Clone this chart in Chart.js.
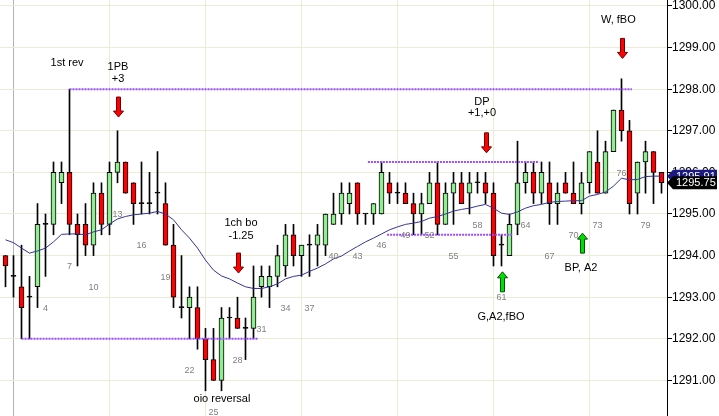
<!DOCTYPE html>
<html>
<head>
<meta charset="utf-8">
<script src="https://cdn.jsdelivr.net/npm/chart.js@4.4.1/dist/chart.umd.min.js"></script>
<style>
  html, body { margin: 0; padding: 0; background: #fff; }
  #wrap { width: 719px; height: 416px; }
</style>
</head>
<body>
<div id="wrap"><canvas id="chart" width="719" height="416"></canvas></div>
<script>
// 5-min bars, numbered from the session open; first visible bar is -1
const firstBar = -1;

const opens = [
  1294.00, 1293.50, 1293.25, 1293.00, 1293.25, 1294.75, 1294.75, 1295.75, 1296.00, 1294.75,
  1294.75, 1294.25, 1295.50, 1294.75, 1296.00, 1296.25, 1295.75, 1295.25, 1295.25, 1295.50,
  1295.25, 1294.25, 1292.75, 1292.75, 1292.75, 1292.00, 1291.50, 1291.00, 1292.50, 1292.50,
  1292.25, 1292.25, 1293.25, 1293.25, 1293.50, 1293.75, 1294.50, 1294.00, 1294.25, 1294.25,
  1294.25, 1294.75, 1295.00, 1295.25, 1295.75, 1295.00, 1295.00, 1295.00, 1295.75, 1295.50,
  1295.50, 1295.25, 1295.00, 1295.25, 1295.75, 1294.75, 1295.50, 1295.75, 1295.50, 1295.75,
  1295.75, 1295.50, 1294.25, 1294.00, 1294.75, 1295.75, 1296.00, 1295.50, 1295.75, 1295.25,
  1295.75, 1295.50, 1295.25, 1295.75, 1296.25, 1295.50, 1296.50, 1297.50, 1297.00, 1295.50,
  1296.25, 1296.50, 1296.00
];
const highs = [
  1294.00, 1294.00, 1294.25, 1293.50, 1295.25, 1295.00, 1296.25, 1296.25, 1298.00, 1295.00,
  1295.25, 1295.75, 1295.75, 1296.25, 1297.00, 1296.25, 1295.75, 1296.25, 1296.00, 1296.50,
  1295.75, 1294.75, 1294.00, 1293.25, 1293.25, 1292.25, 1292.25, 1292.75, 1292.75, 1293.00,
  1292.50, 1293.75, 1293.75, 1293.75, 1294.25, 1294.75, 1294.75, 1294.25, 1294.50, 1294.75,
  1295.00, 1295.50, 1295.75, 1295.75, 1295.75, 1295.00, 1295.25, 1296.25, 1296.00, 1295.75,
  1295.75, 1295.50, 1295.50, 1296.00, 1296.25, 1295.75, 1296.00, 1296.00, 1296.00, 1296.00,
  1296.00, 1295.75, 1294.50, 1295.00, 1296.75, 1296.25, 1296.25, 1296.25, 1296.25, 1295.75,
  1296.00, 1296.25, 1296.00, 1296.50, 1297.00, 1296.75, 1297.50, 1298.25, 1297.25, 1296.25,
  1296.75, 1296.50, 1296.00
];
const lows = [
  1293.25, 1293.00, 1292.00, 1292.00, 1292.75, 1293.50, 1294.50, 1295.25, 1294.50, 1293.75,
  1294.00, 1294.00, 1294.50, 1294.50, 1295.75, 1295.50, 1294.75, 1295.00, 1295.00, 1295.00,
  1294.25, 1292.75, 1292.50, 1292.00, 1291.75, 1290.75, 1291.00, 1290.75, 1292.00, 1292.25,
  1291.50, 1292.00, 1293.00, 1292.75, 1293.25, 1293.50, 1293.75, 1293.50, 1293.50, 1293.75,
  1294.00, 1294.75, 1294.75, 1295.00, 1294.75, 1294.75, 1294.75, 1295.00, 1295.25, 1295.25,
  1295.25, 1294.50, 1294.50, 1295.25, 1294.50, 1294.75, 1294.75, 1295.25, 1295.00, 1295.50,
  1295.25, 1293.75, 1293.75, 1294.00, 1294.50, 1295.50, 1295.25, 1295.25, 1294.75, 1294.75,
  1295.50, 1295.25, 1295.00, 1295.50, 1295.50, 1295.50, 1296.50, 1296.75, 1295.00, 1295.00,
  1295.50, 1295.25, 1295.50
];
const closes = [
  1293.75, 1293.50, 1292.75, 1293.00, 1294.75, 1294.75, 1296.00, 1296.00, 1294.75, 1294.50,
  1294.25, 1295.50, 1294.75, 1296.00, 1296.25, 1295.50, 1295.25, 1295.25, 1295.25, 1295.50,
  1294.25, 1293.00, 1292.75, 1293.00, 1292.00, 1291.50, 1291.00, 1292.50, 1292.50, 1292.25,
  1292.25, 1293.00, 1293.50, 1293.50, 1294.00, 1294.50, 1294.00, 1294.25, 1294.25, 1294.50,
  1295.00, 1295.00, 1295.50, 1295.50, 1295.00, 1295.00, 1295.25, 1296.00, 1295.50, 1295.50,
  1295.25, 1295.00, 1295.25, 1295.75, 1294.75, 1295.50, 1295.75, 1295.25, 1295.75, 1295.75,
  1295.50, 1294.00, 1294.25, 1294.75, 1295.75, 1296.00, 1295.50, 1296.00, 1295.25, 1295.50,
  1295.50, 1295.25, 1295.75, 1296.50, 1295.50, 1296.50, 1297.50, 1297.00, 1295.25, 1296.25,
  1296.50, 1296.00, 1295.75
];
// moving average, one value per bar
const maValues = [
  1294.38, 1294.31, 1294.18, 1294.06, 1294.11, 1294.18, 1294.33, 1294.51, 1294.52, 1294.52,
  1294.50, 1294.57, 1294.62, 1294.76, 1294.88, 1294.94, 1294.98, 1295.00, 1295.02, 1295.06,
  1295.00, 1294.86, 1294.62, 1294.42, 1294.18, 1293.89, 1293.65, 1293.51, 1293.44, 1293.34,
  1293.25, 1293.21, 1293.21, 1293.25, 1293.32, 1293.44, 1293.50, 1293.53, 1293.62, 1293.70,
  1293.80, 1293.92, 1293.99, 1294.11, 1294.22, 1294.33, 1294.42, 1294.52, 1294.62, 1294.69,
  1294.75, 1294.78, 1294.82, 1294.90, 1294.94, 1295.00, 1295.07, 1295.11, 1295.14, 1295.19,
  1295.23, 1295.14, 1295.02, 1294.99, 1295.05, 1295.14, 1295.20, 1295.23, 1295.28, 1295.30,
  1295.31, 1295.32, 1295.32, 1295.43, 1295.47, 1295.53, 1295.67, 1295.86, 1295.82, 1295.83,
  1295.90, 1295.91, 1295.91
];

const yTicks = [1291, 1292, 1293, 1294, 1295, 1296, 1297, 1298, 1299, 1300];
const yMin = 1290.144;
const yMax = 1300.144;
const xMin = -1.6875;
const xMax = 81.6875;
const gridBars = [0, 12, 24, 36, 48, 60, 72];
const labelBars = [4, 7, 10, 13, 16, 19, 22, 25, 28, 31, 34, 37, 40, 43, 46, 49, 52, 55, 58, 61, 64, 67, 70, 73, 76, 79];

// dotted support / resistance levels
const levelPrices = [1298.00, 1292.00, 1296.25, 1294.50];
const levelStarts = [7, 1, 44.3, 46.7];
const levelEnds = [77.3, 30.6, 65.7, 62.4];

// signal arrows (tip price)
const arrowBars = [13, 28, 59, 76, 61, 71];
const arrowTips = [1297.33, 1293.58, 1296.47, 1298.74, 1293.61, 1294.54];
const arrowDirs = ['down', 'down', 'down', 'down', 'up', 'up'];

const noteTexts = ['1st rev', '1PB', '+3', '1ch bo', '-1.25', 'oio reversal', 'DP', '+1,+0', 'G,A2,fBO', 'BP, A2', 'W, fBO'];
const noteBars = [6.69, 13.06, 13.06, 28.44, 28.44, 26.06, 58.56, 58.56, 60.94, 70.94, 75.6];
const notePrices = [1298.63, 1298.53, 1298.25, 1294.78, 1294.48, 1290.55, 1297.69, 1297.42, 1292.52, 1293.70, 1299.66];

const COLORS = {
  up: '#90ee90',
  down: '#ff0000',
  edge: '#000000',
  ma: '#333399',
  level: '#9b4dff',
  grid: '#ecebd8',
  session: '#b4b4b4',
  barNo: '#808080',
};

const FONT = '"Liberation Sans", Arial, sans-serif';
Chart.defaults.font.family = FONT;

const barIdx = opens.map((o, i) => firstBar + i);
const bodyColors = opens.map((o, i) => closes[i] > o ? COLORS.up : (closes[i] < o ? COLORS.down : COLORS.edge));

function drawArrow(ctx, x, tip, dir) {
  const len = 20, head = 6;
  const sgn = dir === 'down' ? -1 : 1;  // shaft extends away from the tip
  const hy = tip + sgn * head;
  const ty = tip + sgn * len;
  x = Math.round(x) + 0.5;
  ctx.beginPath();
  ctx.moveTo(x, tip);
  ctx.lineTo(x + 5, hy);
  ctx.lineTo(x + 2, hy);
  ctx.lineTo(x + 2, ty);
  ctx.lineTo(x - 2, ty);
  ctx.lineTo(x - 2, hy);
  ctx.lineTo(x - 5, hy);
  ctx.closePath();
  ctx.fillStyle = dir === 'down' ? '#ff0000' : '#00dd00';
  ctx.fill();
  ctx.lineWidth = 1;
  ctx.strokeStyle = dir === 'down' ? '#700000' : '#005000';
  ctx.stroke();
}

function priceTag(ctx, left, width, yc, fill, text) {
  const h = 13;
  ctx.beginPath();
  ctx.moveTo(left, yc);
  ctx.lineTo(left + 6, yc - h / 2);
  ctx.lineTo(left + width, yc - h / 2);
  ctx.lineTo(left + width, yc + h / 2);
  ctx.lineTo(left + 6, yc + h / 2);
  ctx.closePath();
  ctx.fillStyle = fill;
  ctx.fill();
  ctx.fillStyle = '#ffffff';
  ctx.font = '11px ' + FONT;
  ctx.textAlign = 'left';
  ctx.textBaseline = 'middle';
  ctx.fillText(text, left + 9, yc + 0.5);
}

const overlay = {
  id: 'overlay',
  afterDatasetsDraw(chart) {
    const { ctx, scales: { x, y } } = chart;
    ctx.save();
    ctx.font = '9px ' + FONT;
    ctx.fillStyle = COLORS.barNo;
    ctx.textAlign = 'center';
    ctx.textBaseline = 'middle';
    labelBars.forEach((n) => {
      const i = n - firstBar;
      ctx.fillText(String(n), x.getPixelForValue(n), y.getPixelForValue(lows[i]) + 32);
    });

    arrowBars.forEach((n, k) => {
      drawArrow(ctx, x.getPixelForValue(n), y.getPixelForValue(arrowTips[k]), arrowDirs[k]);
    });

    ctx.font = '11px ' + FONT;
    ctx.fillStyle = '#000';
    ctx.textAlign = 'center';
    noteTexts.forEach((t, k) => {
      ctx.fillText(t, x.getPixelForValue(noteBars[k]), y.getPixelForValue(notePrices[k]));
    });
    ctx.restore();
  },
  afterDraw(chart) {
    const { ctx, chartArea, scales: { y } } = chart;
    const last = closes.length - 1;
    ctx.save();
    priceTag(ctx, chartArea.right, 50, y.getPixelForValue(maValues[last]), '#1a1a80', maValues[last].toFixed(2));
    priceTag(ctx, chartArea.right, 50, y.getPixelForValue(closes[last]), '#000000', closes[last].toFixed(2));
    ctx.restore();
  },
};

const datasets = [
  {
    type: 'bar',
    label: 'Wicks',
    data: barIdx.map((n, i) => ({ x: n, y: [lows[i], highs[i]] })),
    backgroundColor: COLORS.edge,
    borderWidth: 0,
    barThickness: 1,
    grouped: false,
    order: 4,
  },
  {
    type: 'bar',
    label: 'Bodies',
    data: barIdx.map((n, i) => ({ x: n, y: [opens[i], closes[i]] })),
    backgroundColor: bodyColors,
    borderColor: COLORS.edge,
    borderWidth: 1,
    borderSkipped: false,
    barThickness: 5,
    minBarLength: 1,
    grouped: false,
    order: 3,
  },
  {
    type: 'line',
    label: 'MA',
    data: barIdx.map((n, i) => ({ x: n, y: maValues[i] })),
    borderColor: COLORS.ma,
    borderWidth: 1,
    pointRadius: 0,
    tension: 0,
    order: 2,
  },
];

levelPrices.forEach((p, k) => {
  datasets.push({
    type: 'line',
    label: 'Level ' + p,
    data: [{ x: levelStarts[k], y: p }, { x: levelEnds[k], y: p }],
    borderColor: COLORS.level,
    borderWidth: 2,
    borderDash: [2, 1],
    pointRadius: 0,
    order: 1,
  });
});

new Chart(document.getElementById('chart'), {
  type: 'bar',
  data: { datasets },
  plugins: [overlay],
  options: {
    responsive: false,
    animation: false,
    layout: { padding: 0 },
    plugins: { legend: { display: false }, tooltip: { enabled: false } },
    scales: {
      x: {
        type: 'linear',
        min: xMin,
        max: xMax,
        offset: false,
        afterBuildTicks(scale) { scale.ticks = gridBars.map((v) => ({ value: v })); },
        afterFit(scale) { scale.height = 0; },
        ticks: { display: false },
        border: { display: false },
        grid: {
          offset: false,
          drawTicks: false,
          color: (c) => (c.tick && c.tick.value === 0 ? COLORS.session : COLORS.grid),
        },
      },
      y: {
        type: 'linear',
        position: 'right',
        min: yMin,
        max: yMax,
        afterBuildTicks(scale) { scale.ticks = yTicks.map((v) => ({ value: v })); },
        afterFit(scale) {
          scale.width = 52;
          scale.paddingTop = 0;
          scale.paddingBottom = 0;
        },
        border: { color: '#000', width: 1 },
        grid: { color: COLORS.grid, tickColor: '#000', tickLength: 5 },
        ticks: {
          color: '#000',
          padding: 0,
          autoSkip: false,
          font: { size: 12 },
          callback: (v) => v.toFixed(2),
        },
      },
    },
  },
});
</script>
</body>
</html>
